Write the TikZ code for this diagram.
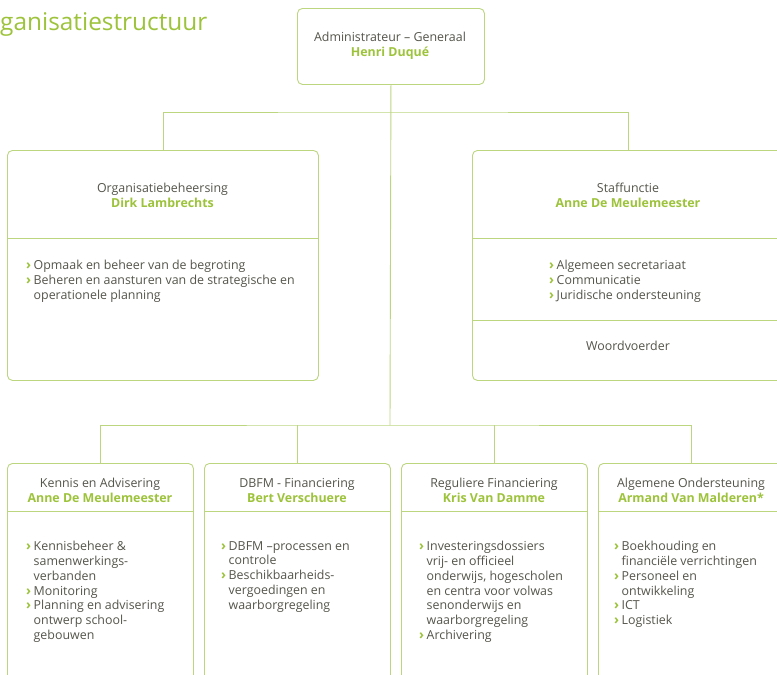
\documentclass[tikz,border=0pt]{standalone}
\usepackage{fontspec}
\setmainfont{Open Sans}
\definecolor{lime}{HTML}{9DC33B}
\definecolor{txt}{HTML}{55554C}
\definecolor{edge}{HTML}{BCD680}
\newcommand\bl{\makebox[7.5pt][l]{\textcolor{lime}{\bfseries\fontsize{13.5}{14.8}\selectfont ›}}}
\newcommand\ct{\hspace*{7.5pt}}
\newcommand\nm[1]{\textcolor{lime}{\bfseries #1}}
\begin{document}
\begin{tikzpicture}[x=1pt,y=-1pt,
  every node/.style={text=txt, font=\fontsize{12.4}{14.8}\selectfont},
  box/.style={draw=edge, line width=0.9pt, rounded corners=5pt, anchor=north west, inner sep=0},
  link/.style={draw=edge, line width=0.9pt},
  hd/.style={align=center, inner sep=0},
  lst/.style={align=left, anchor=north west, inner sep=0},
]
\clip (0,0) rectangle (777,675);
\fill[white] (0,0) rectangle (777,675);

\node[anchor=base west, inner sep=0, text=lime, font=\fontsize{24.4}{25}\selectfont] (ttl) at (0,30) {ganisatiestructuur};

% top
\node[box, minimum width=187, minimum height=76] (adm) at (297,8) {};
\node[hd] (admt) at (390,46) {Administrateur – Generaal\\\nm{Henri Duqué}};

% second level
\node[box, minimum width=311, minimum height=230] (org) at (7,150) {};
\draw[link] (org.west |- 0,238) -- (org.east |- 0,238);
\node[hd] (orgt) at (162.5,195) {Organisatiebeheersing\\\nm{Dirk Lambrechts}};
\node[lst] (orgl) at (26,260) {\bl Opmaak en beheer van de begroting\\\bl Beheren en aansturen van de strategische en\\\ct operationele planning};

\node[box, minimum width=312, minimum height=230] (staff) at (472,150) {};
\draw[link] (staff.west |- 0,238) -- (staff.east |- 0,238);
\draw[link] (staff.west |- 0,320) -- (staff.east |- 0,320);
\node[hd] (stafft) at (628,195) {Staffunctie\\\nm{Anne De Meulemeester}};
\node[lst] (staffl) at (549,260) {\bl Algemeen secretariaat\\\bl Communicatie\\\bl Juridische ondersteuning};
\node (woord) at (628,346) {Woordvoerder};

% third level
\node[box, minimum width=186, minimum height=240] (ken) at (7,463) {};
\node[box, minimum width=186, minimum height=240] (dbfm) at (204,463) {};
\node[box, minimum width=186, minimum height=240] (reg) at (401,463) {};
\node[box, minimum width=186, minimum height=240] (alg) at (598,463) {};
\foreach \b in {ken,dbfm,reg,alg}
  \draw[link] (\b.west |- 0,511) -- (\b.east |- 0,511);

\node[hd] (kent) at (100,490.5) {Kennis en Advisering\\\nm{Anne De Meulemeester}};
\node[hd] (dbfmt) at (297,490.5) {DBFM - Financiering\\\nm{Bert Verschuere}};
\node[hd] (regt) at (494,490.5) {Reguliere Financiering\\\nm{Kris Van Damme}};
\node[hd] (algt) at (691,490.5) {Algemene Ondersteuning\\\nm{Armand Van Malderen*}};

\node[lst] (kenl) at (26,541) {\bl Kennisbeheer \&\\\ct samenwerkings-\\\ct verbanden\\\bl Monitoring\\\bl Planning en advisering\\\ct ontwerp school-\\\ct gebouwen};
\node[lst] (dbfml) at (221,541) {\bl DBFM –processen en\\\ct controle\\\bl Beschikbaarheids-\\\ct vergoedingen en\\\ct waarborgregeling};
\node[lst] (regl) at (419,541) {\bl Investeringsdossiers\\\ct vrij- en officieel\\\ct onderwijs, hogescholen\\\ct en centra voor volwas\\\ct senonderwijs en\\\ct waarborgregeling\\\bl Archivering};
\node[lst] (algl) at (614,541) {\bl Boekhouding en\\\ct financiële verrichtingen\\\bl Personeel en\\\ct ontwikkeling\\\bl ICT\\\bl Logistiek};

% connectors
\coordinate (j1) at (390,112);
\coordinate (j2) at (390,425);
\draw[link] (adm.south) -- (j2);
\draw[link] (org.north) |- (j1) -| (staff.north);
\draw[link] (ken.north) |- (j2) -| (alg.north);
\draw[link] (dbfm.north) -- (dbfm.north |- j2);
\draw[link] (reg.north) -- (reg.north |- j2);
\end{tikzpicture}
\end{document}
